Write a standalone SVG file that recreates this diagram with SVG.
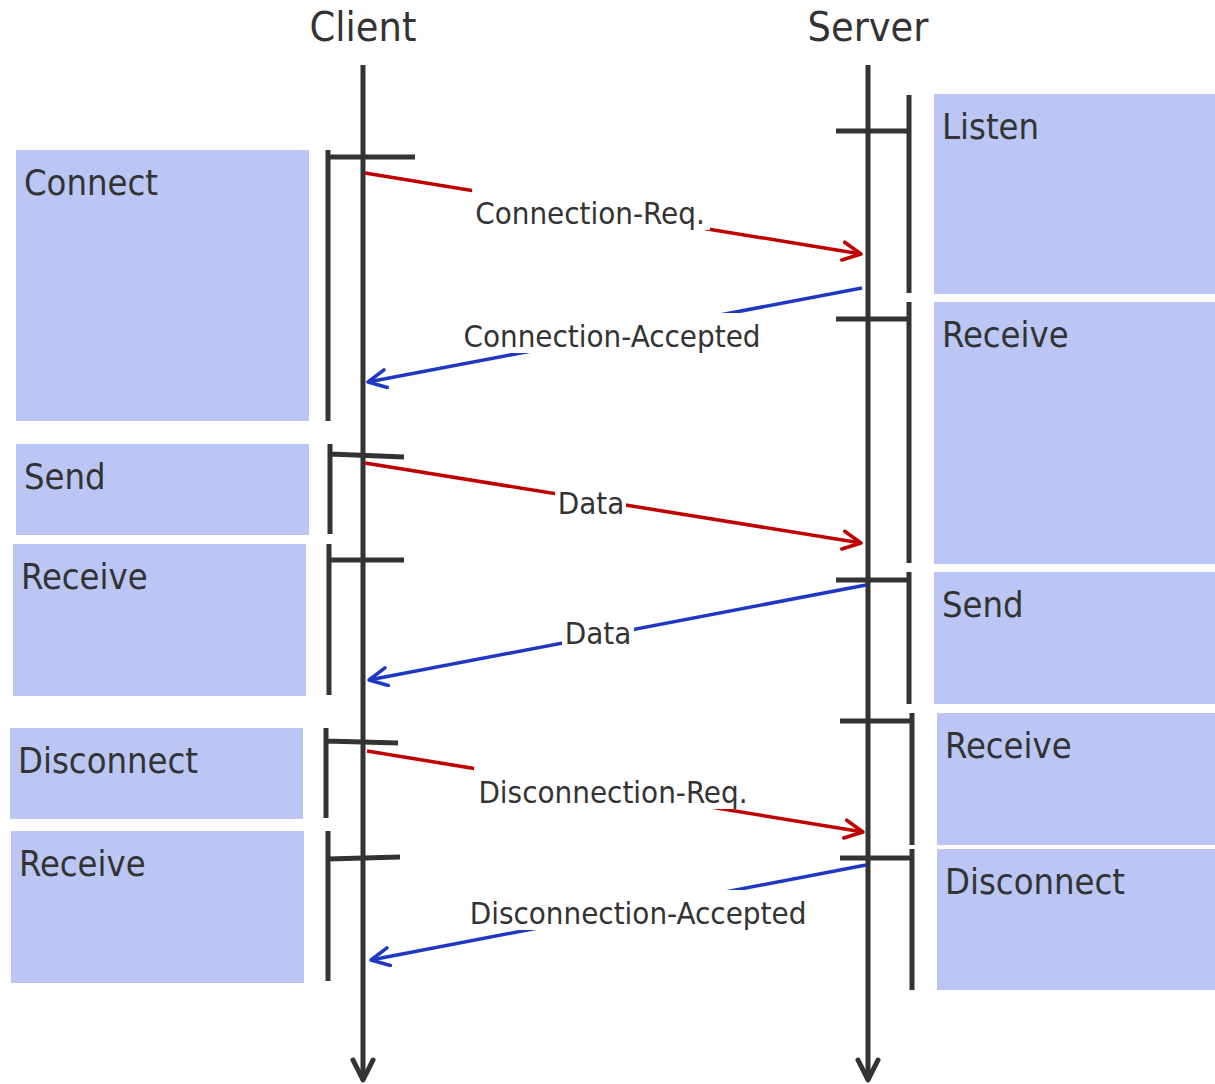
<svg xmlns="http://www.w3.org/2000/svg" width="1215" height="1084" viewBox="0 0 1215 1084">
<defs>
<style>
text{font-family:"DejaVu Sans Condensed","DejaVu Sans",sans-serif;font-stretch:condensed;fill:#333}
.title{font-size:41px;text-anchor:middle}
.box{fill:#bbc6f4}
.blabel{font-size:36px}
.clabel{font-size:31px;text-anchor:middle}
.life{stroke:#333;stroke-width:5;fill:none}
.br{stroke:#333;stroke-width:5;fill:none}
.req{stroke:#c00000;stroke-width:3.5;fill:none}
.acc{stroke:#1f38c4;stroke-width:3.5;fill:none}
.bg{fill:#fff}
</style>
<marker id="ahR" viewBox="0 0 22 22" refX="20" refY="11" markerWidth="22" markerHeight="22" markerUnits="userSpaceOnUse" orient="auto"><path d="M2,2 L20,11 L2,20" fill="none" stroke="#c00000" stroke-width="3.5" stroke-linecap="round" stroke-linejoin="round"/></marker>
<marker id="ahB" viewBox="0 0 22 22" refX="20" refY="11" markerWidth="22" markerHeight="22" markerUnits="userSpaceOnUse" orient="auto"><path d="M2,2 L20,11 L2,20" fill="none" stroke="#1f38c4" stroke-width="3.5" stroke-linecap="round" stroke-linejoin="round"/></marker>
<marker id="ahK" viewBox="0 0 26 26" refX="23" refY="13" markerWidth="26" markerHeight="26" markerUnits="userSpaceOnUse" orient="auto"><path d="M3,3 L23,13 L3,23" fill="none" stroke="#333" stroke-width="5" stroke-linecap="round" stroke-linejoin="round"/></marker>
</defs>
<rect width="1215" height="1084" fill="#fff"/>

<g id="client-header"><text class="title" x="363" y="41">Client</text></g>
<g id="server-header"><text class="title" x="868" y="41">Server</text></g>

<g id="c-connect"><rect class="box" x="16" y="150" width="293" height="271"/><text class="blabel" x="24" y="195">Connect</text></g>
<g id="c-send"><rect class="box" x="16" y="444" width="293" height="91"/><text class="blabel" x="24" y="489">Send</text></g>
<g id="c-receive1"><rect class="box" x="13" y="544" width="293" height="152"/><text class="blabel" x="21" y="589">Receive</text></g>
<g id="c-disconnect"><rect class="box" x="10" y="728" width="293" height="91"/><text class="blabel" x="18" y="773">Disconnect</text></g>
<g id="c-receive2"><rect class="box" x="11" y="831" width="293" height="152"/><text class="blabel" x="19" y="876">Receive</text></g>

<g id="s-listen"><rect class="box" x="934" y="94" width="281" height="200"/><text class="blabel" x="942" y="139">Listen</text></g>
<g id="s-receive1"><rect class="box" x="934" y="302" width="281" height="262"/><text class="blabel" x="942" y="347">Receive</text></g>
<g id="s-send"><rect class="box" x="934" y="572" width="281" height="132"/><text class="blabel" x="942" y="617">Send</text></g>
<g id="s-receive2"><rect class="box" x="937" y="713" width="278" height="132"/><text class="blabel" x="945" y="758">Receive</text></g>
<g id="s-disconnect"><rect class="box" x="937" y="849" width="278" height="141"/><text class="blabel" x="945" y="894">Disconnect</text></g>

<g id="lifelines">
<line class="life" x1="363" y1="65" x2="363" y2="1080" marker-end="url(#ahK)"/>
<line class="life" x1="868" y1="65" x2="868" y2="1080" marker-end="url(#ahK)"/>
</g>

<g id="brackets">
<path class="br" d="M328,150 V421 M328,157 H415"/>
<path class="br" d="M330,444 V534 M330,454 L404,457"/>
<path class="br" d="M329,544 V695 M329,560 H404"/>
<path class="br" d="M326,728 V818 M326,741 L398,743"/>
<path class="br" d="M328,831 V981 M328,859 L400,857"/>
<path class="br" d="M909,95 V293 M836,131 H909"/>
<path class="br" d="M909,302 V563 M836,319 H909"/>
<path class="br" d="M909,572 V704 M836,580 H909"/>
<path class="br" d="M912,713 V845 M840,721 H912"/>
<path class="br" d="M912,849 V990 M840,858 H912"/>
</g>

<g id="connectors">
<line class="req" x1="365" y1="173" x2="861" y2="254" marker-end="url(#ahR)"/>
<rect class="bg" x="472" y="188" width="238" height="42"/>
<text class="clabel" x="590" y="224">Connection-Req.</text>

<line class="acc" x1="862" y1="288" x2="368" y2="382" marker-end="url(#ahB)"/>
<rect class="bg" x="462" y="313" width="302" height="40"/>
<text class="clabel" x="612" y="347">Connection-Accepted</text>

<line class="req" x1="365" y1="463" x2="861" y2="543" marker-end="url(#ahR)"/>
<rect class="bg" x="555" y="488" width="71" height="32"/>
<text class="clabel" x="591" y="514">Data</text>

<line class="acc" x1="866" y1="585" x2="369" y2="680" marker-end="url(#ahB)"/>
<rect class="bg" x="562" y="618" width="72" height="32"/>
<text class="clabel" x="598" y="644">Data</text>

<line class="req" x1="367" y1="751" x2="863" y2="832" marker-end="url(#ahR)"/>
<rect class="bg" x="474" y="767" width="280" height="42"/>
<text class="clabel" x="613" y="803">Disconnection-Req.</text>

<line class="acc" x1="866" y1="865" x2="371" y2="960" marker-end="url(#ahB)"/>
<rect class="bg" x="466" y="890" width="344" height="40"/>
<text class="clabel" x="638" y="924">Disconnection-Accepted</text>
</g>
</svg>
